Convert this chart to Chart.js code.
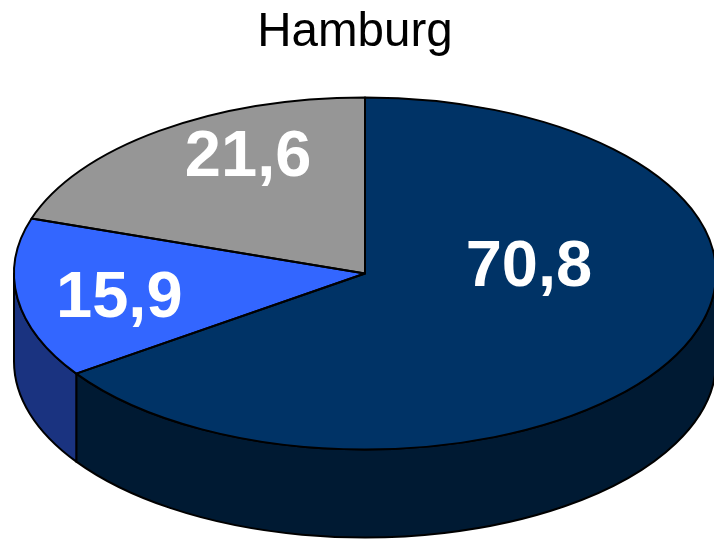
<!DOCTYPE html>
<html>
<head>
<meta charset="utf-8">
<style>html,body{margin:0;padding:0;background:#fff}canvas{display:block}</style>
<script src="https://cdn.jsdelivr.net/npm/chart.js@4"></script>
</head>
<body>
<canvas id="c" width="714" height="539"></canvas>
<script>
const chartTitle = "Hamburg";
const categories = ["Segment 1", "Segment 2", "Segment 3"];
const values = [70.8, 15.9, 21.6];
const topColors = ["#003366", "#3366FF", "#969696"];
const sideColors = ["#001A33", "#1A3380", "#4B4B4B"];

// Tilted-pie projection of the library's circular arcs (pixels on the page)
const tilt = {cx: 365, cy: 273.5, rx: 351, ry: 176, depth: 88};
// Label centres relative to the pie centre, in units of the ellipse radii
const labelSpots = [[0.467, -0.03], [-0.70, 0.143], [-0.333, -0.655]];
const outline = {color: "#000000", width: 2};

function project(ctx, el, dy) {
  ctx.translate(tilt.cx, tilt.cy + (dy || 0));
  ctx.scale(tilt.rx / el.outerRadius, tilt.ry / el.outerRadius);
  ctx.translate(-el.x, -el.y);
}

const tiltedPie = {
  id: "tiltedPie",
  beforeDatasetsDraw(chart) {
    const ctx = chart.ctx, arcs = chart.getDatasetMeta(0).data;
    // Side wall: the part of every arc that faces the viewer
    arcs.forEach((el, i) => {
      const a0 = Math.max(el.startAngle, 0), a1 = Math.min(el.endAngle, Math.PI);
      if (a1 <= a0) return;
      ctx.save();
      ctx.beginPath();
      ctx.save();
      project(ctx, el, 0);
      ctx.arc(el.x, el.y, el.outerRadius, a0, a1);
      ctx.restore();
      ctx.save();
      project(ctx, el, tilt.depth);
      ctx.arc(el.x, el.y, el.outerRadius, a1, a0, true);
      ctx.restore();
      ctx.closePath();
      ctx.fillStyle = sideColors[i];
      ctx.fill();
      ctx.strokeStyle = outline.color;
      ctx.lineWidth = outline.width;
      ctx.lineJoin = "round";
      ctx.stroke();
      ctx.restore();
    });
    ctx.save();
    project(ctx, arcs[0], 0);
  },
  afterDatasetsDraw(chart) {
    const ctx = chart.ctx, arcs = chart.getDatasetMeta(0).data;
    ctx.restore();
    // Uniform-width outlines of the top face
    arcs.forEach((el) => {
      ctx.save();
      ctx.beginPath();
      ctx.save();
      project(ctx, el, 0);
      ctx.moveTo(el.x, el.y);
      ctx.arc(el.x, el.y, el.outerRadius, el.startAngle, el.endAngle);
      ctx.closePath();
      ctx.restore();
      ctx.strokeStyle = outline.color;
      ctx.lineWidth = outline.width;
      ctx.lineJoin = "round";
      ctx.stroke();
      ctx.restore();
    });
    // Value labels
    ctx.save();
    ctx.fillStyle = "#FFFFFF";
    ctx.font = "bold 65px 'Liberation Sans', Arial, sans-serif";
    ctx.textAlign = "center";
    ctx.textBaseline = "middle";
    values.forEach((v, i) => {
      ctx.fillText(String(v).replace(".", ","),
        tilt.cx + labelSpots[i][0] * tilt.rx,
        tilt.cy + labelSpots[i][1] * tilt.ry);
    });
    ctx.restore();
  }
};

new Chart(document.getElementById("c"), {
  type: "pie",
  data: {
    labels: categories,
    datasets: [{
      data: values,
      backgroundColor: topColors,
      borderWidth: 0,
      clip: false
    }]
  },
  plugins: [tiltedPie],
  options: {
    responsive: false,
    animation: false,
    events: [],
    rotation: 0,
    layout: {padding: {right: 4}},
    plugins: {
      legend: {display: false},
      tooltip: {enabled: false},
      title: {
        display: true,
        text: chartTitle,
        color: "#000000",
        font: {family: "'Liberation Sans', Arial, sans-serif", size: 47.5, weight: "normal"},
        padding: {top: 4, bottom: 10}
      }
    }
  }
});
</script>
</body>
</html>
